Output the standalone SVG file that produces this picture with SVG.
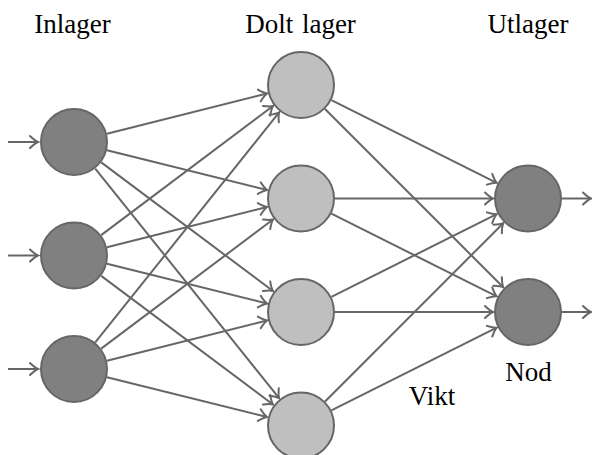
<svg xmlns="http://www.w3.org/2000/svg" width="592" height="455" viewBox="0 0 592 455">
<defs>
<style>
.in{fill:#808080;stroke:#666;stroke-width:2}
.hid{fill:#bfbfbf;stroke:#666;stroke-width:2}
.out{fill:#808080;stroke:#666;stroke-width:2}
#edges line{stroke:#666;stroke-width:2;fill:none;marker-end:url(#arr)}
</style>
<marker id="arr" markerUnits="userSpaceOnUse" viewBox="-10 -8 12 16" markerWidth="12" markerHeight="16" refX="0" refY="0" orient="auto" overflow="visible">
<path d="M-8,-6 Q-3,-1.2 0,0 Q-3,1.2 -8,6" fill="none" stroke="#666" stroke-width="2" stroke-linecap="round"/>
</marker>
</defs>
<rect width="592" height="455" fill="#fff"/>
<g id="labels" fill="#000" text-anchor="middle">
<text x="72.5" y="32.5" font-family="Liberation Serif" font-size="27">Inlager</text>
<text x="300.5" y="32.5" font-family="Liberation Serif" font-size="27" word-spacing="2">Dolt lager</text>
<text x="528" y="32.5" font-family="Liberation Serif" font-size="27">Utlager</text>
<text x="432" y="405" font-family="Liberation Serif" font-size="27">Vikt</text>
<text x="528.5" y="381" font-family="Liberation Serif" font-size="27">Nod</text>
</g>
<g id="edges">
<line x1="8" y1="142" x2="38" y2="142"/>
<line x1="8" y1="255.5" x2="38" y2="255.5"/>
<line x1="8" y1="369" x2="38" y2="369"/>
<line x1="106.98" y1="133.72" x2="267.05" y2="93.52"/>
<line x1="106.99" y1="150.21" x2="267.04" y2="190.05"/>
<line x1="101.21" y1="162.38" x2="272.99" y2="291.02"/>
<line x1="95.25" y1="168.54" x2="279.12" y2="398.18"/>
<line x1="101.19" y1="235.08" x2="273.01" y2="106.02"/>
<line x1="106.98" y1="247.22" x2="267.05" y2="207.02"/>
<line x1="106.99" y1="263.71" x2="267.04" y2="303.55"/>
<line x1="101.21" y1="275.88" x2="272.99" y2="404.52"/>
<line x1="95.23" y1="342.44" x2="279.15" y2="112.34"/>
<line x1="101.19" y1="348.58" x2="273.01" y2="219.52"/>
<line x1="106.98" y1="360.72" x2="267.05" y2="320.52"/>
<line x1="106.99" y1="377.21" x2="267.04" y2="417.05"/>
<line x1="331.41" y1="100.2" x2="496.7" y2="182.85"/>
<line x1="325.04" y1="109.04" x2="503.25" y2="287.25"/>
<line x1="335" y1="198.5" x2="493" y2="198.5"/>
<line x1="331.41" y1="213.7" x2="496.7" y2="296.35"/>
<line x1="331.41" y1="296.8" x2="496.7" y2="214.15"/>
<line x1="335" y1="312" x2="493" y2="312"/>
<line x1="325.04" y1="401.46" x2="503.25" y2="223.25"/>
<line x1="331.41" y1="410.3" x2="496.7" y2="327.65"/>
<line x1="562" y1="198.5" x2="591" y2="198.5"/>
<line x1="562" y1="312" x2="591" y2="312"/>
</g>
<g id="in1"><circle class="in" cx="74" cy="142" r="33"/></g>
<g id="in2"><circle class="in" cx="74" cy="255.5" r="33"/></g>
<g id="in3"><circle class="in" cx="74" cy="369" r="33"/></g>
<g id="hid1"><circle class="hid" cx="301" cy="85" r="33"/></g>
<g id="hid2"><circle class="hid" cx="301" cy="198.5" r="33"/></g>
<g id="hid3"><circle class="hid" cx="301" cy="312" r="33"/></g>
<g id="hid4"><circle class="hid" cx="301" cy="425.5" r="33"/></g>
<g id="out1"><circle class="out" cx="528" cy="198.5" r="33"/></g>
<g id="out2"><circle class="out" cx="528" cy="312" r="33"/></g>
</svg>
